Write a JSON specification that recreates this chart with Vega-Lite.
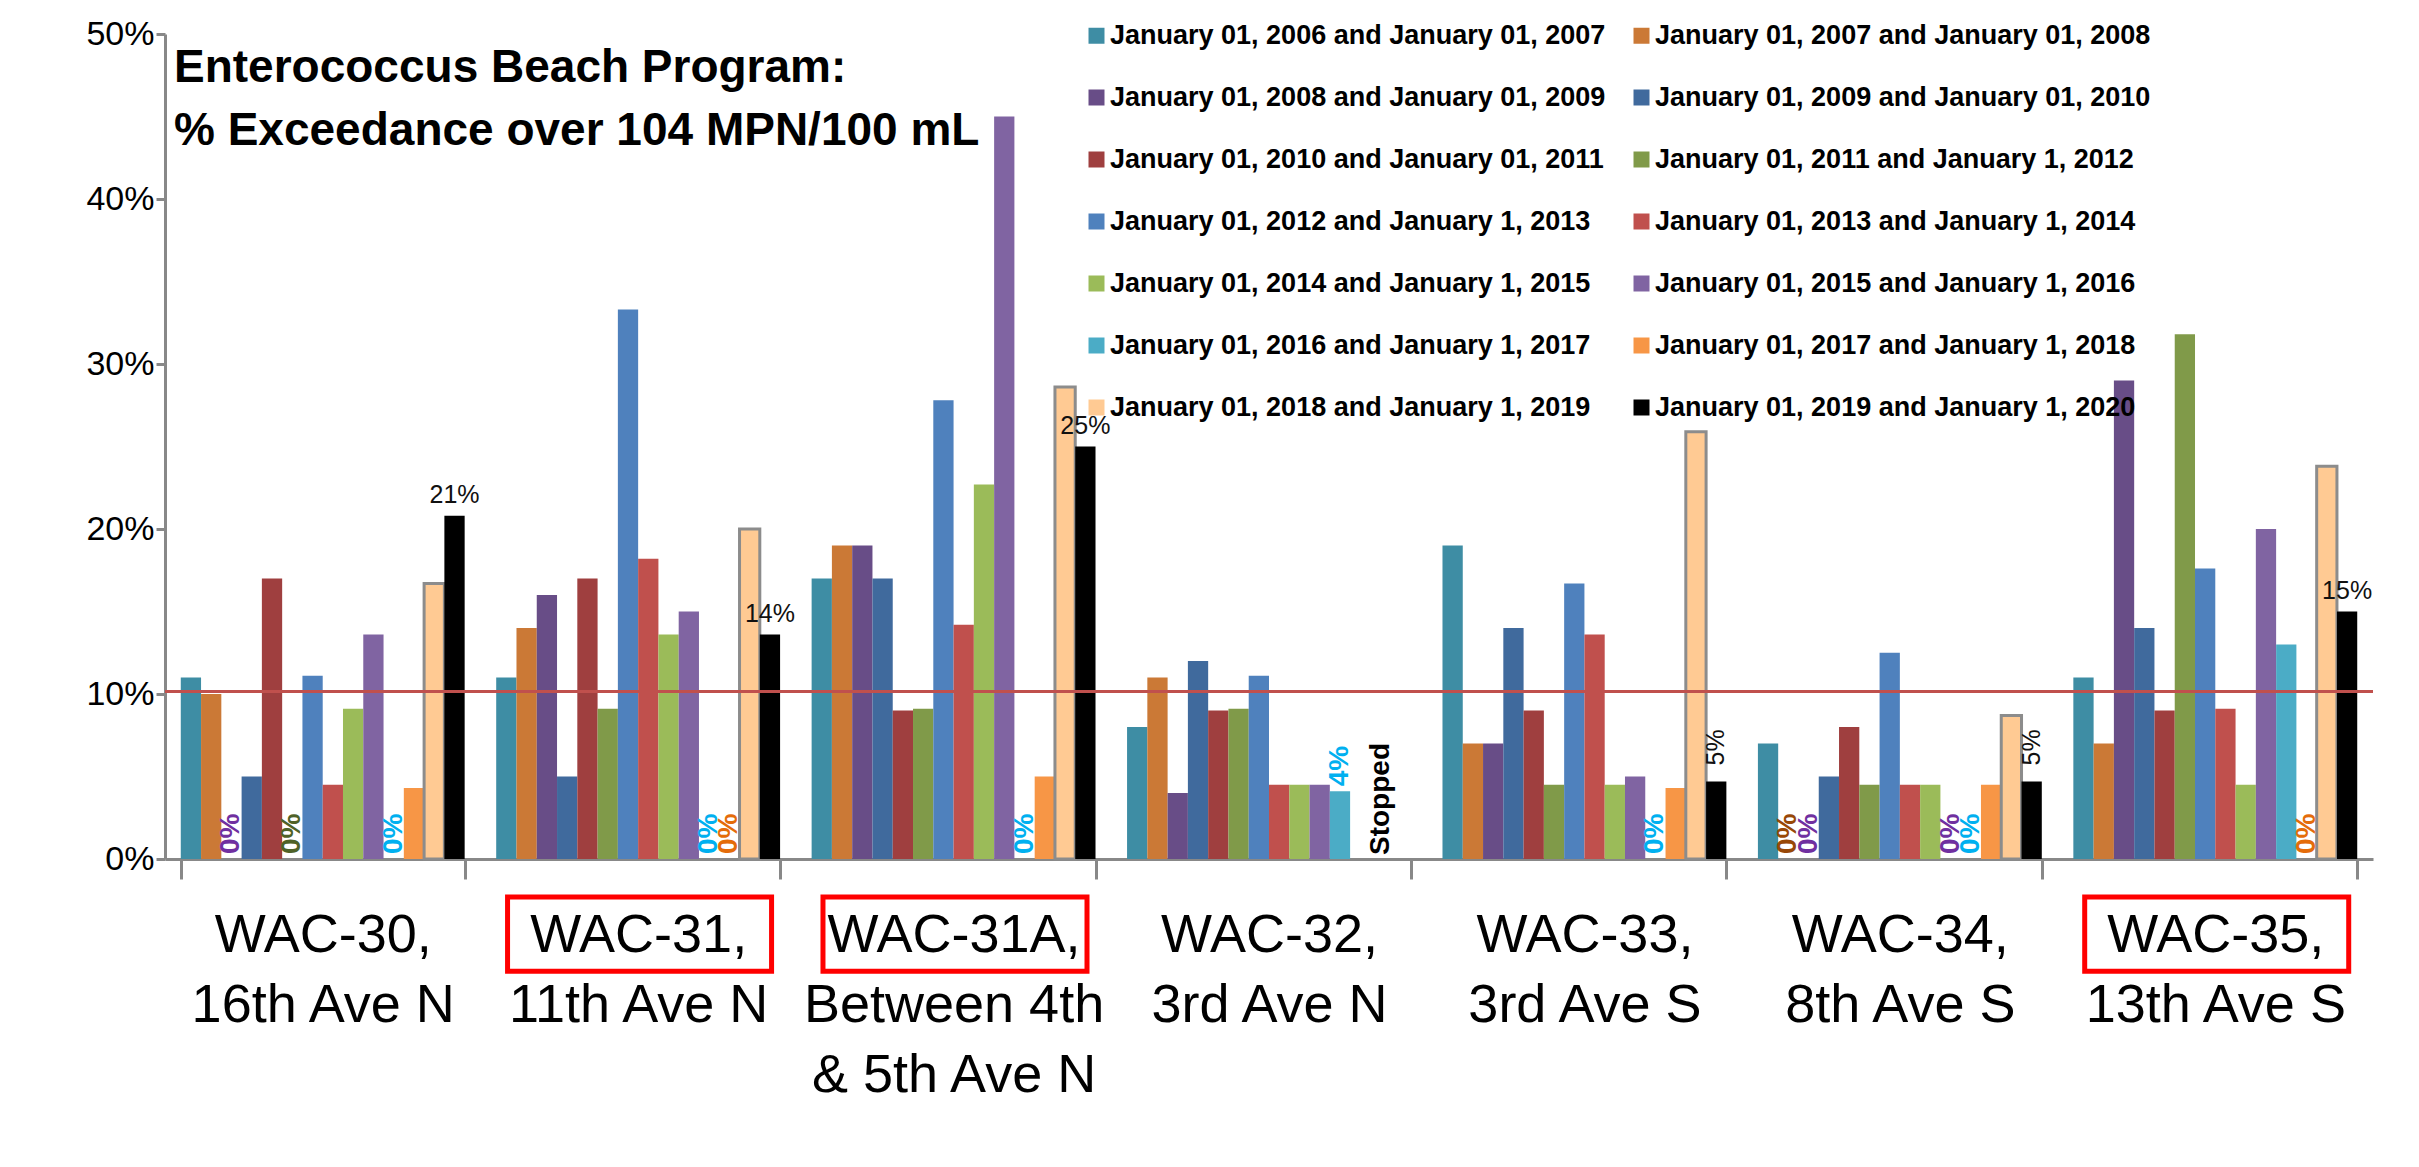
{
  "$schema": "https://vega.github.io/schema/vega-lite/v6.json",
  "autosize": {"type": "none"},
  "width": 2208,
  "height": 825,
  "padding": {"left": 165, "top": 34, "right": 46, "bottom": 308},
  "background": "white",
  "config": {"font": "Liberation Sans", "view": {"stroke": null}},
  "title": {
    "text": ["Enterococcus Beach Program:", "% Exceedance over 104 MPN/100 mL"],
    "anchor": "start", "orient": "top", "frame": "group", "offset": -138,
    "dx": 9, "fontSize": 46, "fontWeight": "bold", "lineHeight": 63, "color": "black"
  },
  "datasets": {
    "bars": [
      {"s": "WAC-30, 16th Ave N", "p": "January 01, 2006 and January 01, 2007", "v": 11, "lab": ""},
      {"s": "WAC-30, 16th Ave N", "p": "January 01, 2007 and January 01, 2008", "v": 10, "lab": ""},
      {"s": "WAC-30, 16th Ave N", "p": "January 01, 2008 and January 01, 2009", "v": 0, "lab": "0%"},
      {"s": "WAC-30, 16th Ave N", "p": "January 01, 2009 and January 01, 2010", "v": 5, "lab": ""},
      {"s": "WAC-30, 16th Ave N", "p": "January 01, 2010 and January 01, 2011", "v": 17, "lab": ""},
      {"s": "WAC-30, 16th Ave N", "p": "January 01, 2011 and January 1, 2012", "v": 0, "lab": "0%"},
      {"s": "WAC-30, 16th Ave N", "p": "January 01, 2012 and January 1, 2013", "v": 11.1, "lab": ""},
      {"s": "WAC-30, 16th Ave N", "p": "January 01, 2013 and January 1, 2014", "v": 4.5, "lab": ""},
      {"s": "WAC-30, 16th Ave N", "p": "January 01, 2014 and January 1, 2015", "v": 9.1, "lab": ""},
      {"s": "WAC-30, 16th Ave N", "p": "January 01, 2015 and January 1, 2016", "v": 13.6, "lab": ""},
      {"s": "WAC-30, 16th Ave N", "p": "January 01, 2016 and January 1, 2017", "v": 0, "lab": "0%"},
      {"s": "WAC-30, 16th Ave N", "p": "January 01, 2017 and January 1, 2018", "v": 4.3, "lab": ""},
      {"s": "WAC-30, 16th Ave N", "p": "January 01, 2018 and January 1, 2019", "v": 16.7, "lab": ""},
      {"s": "WAC-30, 16th Ave N", "p": "January 01, 2019 and January 1, 2020", "v": 20.8, "lab": "21%"},

      {"s": "WAC-31, 11th Ave N", "p": "January 01, 2006 and January 01, 2007", "v": 11, "lab": ""},
      {"s": "WAC-31, 11th Ave N", "p": "January 01, 2007 and January 01, 2008", "v": 14, "lab": ""},
      {"s": "WAC-31, 11th Ave N", "p": "January 01, 2008 and January 01, 2009", "v": 16, "lab": ""},
      {"s": "WAC-31, 11th Ave N", "p": "January 01, 2009 and January 01, 2010", "v": 5, "lab": ""},
      {"s": "WAC-31, 11th Ave N", "p": "January 01, 2010 and January 01, 2011", "v": 17, "lab": ""},
      {"s": "WAC-31, 11th Ave N", "p": "January 01, 2011 and January 1, 2012", "v": 9.1, "lab": ""},
      {"s": "WAC-31, 11th Ave N", "p": "January 01, 2012 and January 1, 2013", "v": 33.3, "lab": ""},
      {"s": "WAC-31, 11th Ave N", "p": "January 01, 2013 and January 1, 2014", "v": 18.2, "lab": ""},
      {"s": "WAC-31, 11th Ave N", "p": "January 01, 2014 and January 1, 2015", "v": 13.6, "lab": ""},
      {"s": "WAC-31, 11th Ave N", "p": "January 01, 2015 and January 1, 2016", "v": 15, "lab": ""},
      {"s": "WAC-31, 11th Ave N", "p": "January 01, 2016 and January 1, 2017", "v": 0, "lab": "0%"},
      {"s": "WAC-31, 11th Ave N", "p": "January 01, 2017 and January 1, 2018", "v": 0, "lab": "0%"},
      {"s": "WAC-31, 11th Ave N", "p": "January 01, 2018 and January 1, 2019", "v": 20, "lab": ""},
      {"s": "WAC-31, 11th Ave N", "p": "January 01, 2019 and January 1, 2020", "v": 13.6, "lab": "14%"},

      {"s": "WAC-31A, Between 4th & 5th Ave N", "p": "January 01, 2006 and January 01, 2007", "v": 17, "lab": ""},
      {"s": "WAC-31A, Between 4th & 5th Ave N", "p": "January 01, 2007 and January 01, 2008", "v": 19, "lab": ""},
      {"s": "WAC-31A, Between 4th & 5th Ave N", "p": "January 01, 2008 and January 01, 2009", "v": 19, "lab": ""},
      {"s": "WAC-31A, Between 4th & 5th Ave N", "p": "January 01, 2009 and January 01, 2010", "v": 17, "lab": ""},
      {"s": "WAC-31A, Between 4th & 5th Ave N", "p": "January 01, 2010 and January 01, 2011", "v": 9, "lab": ""},
      {"s": "WAC-31A, Between 4th & 5th Ave N", "p": "January 01, 2011 and January 1, 2012", "v": 9.1, "lab": ""},
      {"s": "WAC-31A, Between 4th & 5th Ave N", "p": "January 01, 2012 and January 1, 2013", "v": 27.8, "lab": ""},
      {"s": "WAC-31A, Between 4th & 5th Ave N", "p": "January 01, 2013 and January 1, 2014", "v": 14.2, "lab": ""},
      {"s": "WAC-31A, Between 4th & 5th Ave N", "p": "January 01, 2014 and January 1, 2015", "v": 22.7, "lab": ""},
      {"s": "WAC-31A, Between 4th & 5th Ave N", "p": "January 01, 2015 and January 1, 2016", "v": 45, "lab": ""},
      {"s": "WAC-31A, Between 4th & 5th Ave N", "p": "January 01, 2016 and January 1, 2017", "v": 0, "lab": "0%"},
      {"s": "WAC-31A, Between 4th & 5th Ave N", "p": "January 01, 2017 and January 1, 2018", "v": 5, "lab": ""},
      {"s": "WAC-31A, Between 4th & 5th Ave N", "p": "January 01, 2018 and January 1, 2019", "v": 28.6, "lab": ""},
      {"s": "WAC-31A, Between 4th & 5th Ave N", "p": "January 01, 2019 and January 1, 2020", "v": 25, "lab": "25%"},

      {"s": "WAC-32, 3rd Ave N", "p": "January 01, 2006 and January 01, 2007", "v": 8, "lab": ""},
      {"s": "WAC-32, 3rd Ave N", "p": "January 01, 2007 and January 01, 2008", "v": 11, "lab": ""},
      {"s": "WAC-32, 3rd Ave N", "p": "January 01, 2008 and January 01, 2009", "v": 4, "lab": ""},
      {"s": "WAC-32, 3rd Ave N", "p": "January 01, 2009 and January 01, 2010", "v": 12, "lab": ""},
      {"s": "WAC-32, 3rd Ave N", "p": "January 01, 2010 and January 01, 2011", "v": 9, "lab": ""},
      {"s": "WAC-32, 3rd Ave N", "p": "January 01, 2011 and January 1, 2012", "v": 9.1, "lab": ""},
      {"s": "WAC-32, 3rd Ave N", "p": "January 01, 2012 and January 1, 2013", "v": 11.1, "lab": ""},
      {"s": "WAC-32, 3rd Ave N", "p": "January 01, 2013 and January 1, 2014", "v": 4.5, "lab": ""},
      {"s": "WAC-32, 3rd Ave N", "p": "January 01, 2014 and January 1, 2015", "v": 4.5, "lab": ""},
      {"s": "WAC-32, 3rd Ave N", "p": "January 01, 2015 and January 1, 2016", "v": 4.5, "lab": ""},
      {"s": "WAC-32, 3rd Ave N", "p": "January 01, 2016 and January 1, 2017", "v": 4.1, "lab": "4%"},
      {"s": "WAC-32, 3rd Ave N", "p": "January 01, 2018 and January 1, 2019", "v": 0, "lab": "Stopped"},

      {"s": "WAC-33, 3rd Ave S", "p": "January 01, 2006 and January 01, 2007", "v": 19, "lab": ""},
      {"s": "WAC-33, 3rd Ave S", "p": "January 01, 2007 and January 01, 2008", "v": 7, "lab": ""},
      {"s": "WAC-33, 3rd Ave S", "p": "January 01, 2008 and January 01, 2009", "v": 7, "lab": ""},
      {"s": "WAC-33, 3rd Ave S", "p": "January 01, 2009 and January 01, 2010", "v": 14, "lab": ""},
      {"s": "WAC-33, 3rd Ave S", "p": "January 01, 2010 and January 01, 2011", "v": 9, "lab": ""},
      {"s": "WAC-33, 3rd Ave S", "p": "January 01, 2011 and January 1, 2012", "v": 4.5, "lab": ""},
      {"s": "WAC-33, 3rd Ave S", "p": "January 01, 2012 and January 1, 2013", "v": 16.7, "lab": ""},
      {"s": "WAC-33, 3rd Ave S", "p": "January 01, 2013 and January 1, 2014", "v": 13.6, "lab": ""},
      {"s": "WAC-33, 3rd Ave S", "p": "January 01, 2014 and January 1, 2015", "v": 4.5, "lab": ""},
      {"s": "WAC-33, 3rd Ave S", "p": "January 01, 2015 and January 1, 2016", "v": 5, "lab": ""},
      {"s": "WAC-33, 3rd Ave S", "p": "January 01, 2016 and January 1, 2017", "v": 0, "lab": "0%"},
      {"s": "WAC-33, 3rd Ave S", "p": "January 01, 2017 and January 1, 2018", "v": 4.3, "lab": ""},
      {"s": "WAC-33, 3rd Ave S", "p": "January 01, 2018 and January 1, 2019", "v": 25.9, "lab": ""},
      {"s": "WAC-33, 3rd Ave S", "p": "January 01, 2019 and January 1, 2020", "v": 4.7, "lab": "5%"},

      {"s": "WAC-34, 8th Ave S", "p": "January 01, 2006 and January 01, 2007", "v": 7, "lab": ""},
      {"s": "WAC-34, 8th Ave S", "p": "January 01, 2007 and January 01, 2008", "v": 0, "lab": "0%"},
      {"s": "WAC-34, 8th Ave S", "p": "January 01, 2008 and January 01, 2009", "v": 0, "lab": "0%"},
      {"s": "WAC-34, 8th Ave S", "p": "January 01, 2009 and January 01, 2010", "v": 5, "lab": ""},
      {"s": "WAC-34, 8th Ave S", "p": "January 01, 2010 and January 01, 2011", "v": 8, "lab": ""},
      {"s": "WAC-34, 8th Ave S", "p": "January 01, 2011 and January 1, 2012", "v": 4.5, "lab": ""},
      {"s": "WAC-34, 8th Ave S", "p": "January 01, 2012 and January 1, 2013", "v": 12.5, "lab": ""},
      {"s": "WAC-34, 8th Ave S", "p": "January 01, 2013 and January 1, 2014", "v": 4.5, "lab": ""},
      {"s": "WAC-34, 8th Ave S", "p": "January 01, 2014 and January 1, 2015", "v": 4.5, "lab": ""},
      {"s": "WAC-34, 8th Ave S", "p": "January 01, 2015 and January 1, 2016", "v": 0, "lab": "0%"},
      {"s": "WAC-34, 8th Ave S", "p": "January 01, 2016 and January 1, 2017", "v": 0, "lab": "0%"},
      {"s": "WAC-34, 8th Ave S", "p": "January 01, 2017 and January 1, 2018", "v": 4.5, "lab": ""},
      {"s": "WAC-34, 8th Ave S", "p": "January 01, 2018 and January 1, 2019", "v": 8.7, "lab": ""},
      {"s": "WAC-34, 8th Ave S", "p": "January 01, 2019 and January 1, 2020", "v": 4.7, "lab": "5%"},

      {"s": "WAC-35, 13th Ave S", "p": "January 01, 2006 and January 01, 2007", "v": 11, "lab": ""},
      {"s": "WAC-35, 13th Ave S", "p": "January 01, 2007 and January 01, 2008", "v": 7, "lab": ""},
      {"s": "WAC-35, 13th Ave S", "p": "January 01, 2008 and January 01, 2009", "v": 29, "lab": ""},
      {"s": "WAC-35, 13th Ave S", "p": "January 01, 2009 and January 01, 2010", "v": 14, "lab": ""},
      {"s": "WAC-35, 13th Ave S", "p": "January 01, 2010 and January 01, 2011", "v": 9, "lab": ""},
      {"s": "WAC-35, 13th Ave S", "p": "January 01, 2011 and January 1, 2012", "v": 31.8, "lab": ""},
      {"s": "WAC-35, 13th Ave S", "p": "January 01, 2012 and January 1, 2013", "v": 17.6, "lab": ""},
      {"s": "WAC-35, 13th Ave S", "p": "January 01, 2013 and January 1, 2014", "v": 9.1, "lab": ""},
      {"s": "WAC-35, 13th Ave S", "p": "January 01, 2014 and January 1, 2015", "v": 4.5, "lab": ""},
      {"s": "WAC-35, 13th Ave S", "p": "January 01, 2015 and January 1, 2016", "v": 20, "lab": ""},
      {"s": "WAC-35, 13th Ave S", "p": "January 01, 2016 and January 1, 2017", "v": 13, "lab": ""},
      {"s": "WAC-35, 13th Ave S", "p": "January 01, 2017 and January 1, 2018", "v": 0, "lab": "0%"},
      {"s": "WAC-35, 13th Ave S", "p": "January 01, 2018 and January 1, 2019", "v": 23.8, "lab": ""},
      {"s": "WAC-35, 13th Ave S", "p": "January 01, 2019 and January 1, 2020", "v": 15, "lab": "15%"}
    ]
  },
  "layer": [
    {
      "data": {"name": "bars"},
      "mark": {"type": "bar", "strokeWidth": 3},
      "encoding": {
        "x": {
          "field": "s", "type": "nominal",
          "sort": ["WAC-30, 16th Ave N", "WAC-31, 11th Ave N", "WAC-31A, Between 4th & 5th Ave N", "WAC-32, 3rd Ave N", "WAC-33, 3rd Ave S", "WAC-34, 8th Ave S", "WAC-35, 13th Ave S"],
          "scale": {"paddingInner": 0.1, "paddingOuter": 0.05},
          "axis": {
            "title": null, "labelAngle": 0, "labelFontSize": 54, "labelLineHeight": 70, "labelPadding": 29,
            "labelColor": "black", "labelLimit": 500, "tickBand": "extent", "tickSize": 20, "tickColor": "#888888",
            "tickWidth": 3, "domainColor": "#888888", "domainWidth": 3,
            "labelExpr": "split(replace(replace(datum.label, ', ', ',|'), ' & ', '|& '), '|')"
          }
        },
        "xOffset": {
          "field": "p", "type": "nominal",
          "sort": ["January 01, 2006 and January 01, 2007", "January 01, 2007 and January 01, 2008", "January 01, 2008 and January 01, 2009", "January 01, 2009 and January 01, 2010", "January 01, 2010 and January 01, 2011", "January 01, 2011 and January 1, 2012", "January 01, 2012 and January 1, 2013", "January 01, 2013 and January 1, 2014", "January 01, 2014 and January 1, 2015", "January 01, 2015 and January 1, 2016", "January 01, 2016 and January 1, 2017", "January 01, 2017 and January 1, 2018", "January 01, 2018 and January 1, 2019", "January 01, 2019 and January 1, 2020"],
          "scale": {"paddingInner": 0, "paddingOuter": 0}
        },
        "y": {
          "field": "v", "type": "quantitative",
          "scale": {"domain": [0, 50], "nice": false},
          "axis": {
            "title": null, "values": [0, 10, 20, 30, 40, 50], "labelExpr": "datum.value + '%'",
            "labelFontSize": 34, "labelColor": "black", "labelPadding": 2, "tickSize": 9,
            "tickColor": "#888888", "tickWidth": 3, "domainColor": "#888888", "domainWidth": 3, "grid": false
          }
        },
        "color": {
          "field": "p", "type": "nominal",
          "scale": {
            "domain": ["January 01, 2006 and January 01, 2007", "January 01, 2008 and January 01, 2009", "January 01, 2010 and January 01, 2011", "January 01, 2012 and January 1, 2013", "January 01, 2014 and January 1, 2015", "January 01, 2016 and January 1, 2017", "January 01, 2018 and January 1, 2019", "January 01, 2007 and January 01, 2008", "January 01, 2009 and January 01, 2010", "January 01, 2011 and January 1, 2012", "January 01, 2013 and January 1, 2014", "January 01, 2015 and January 1, 2016", "January 01, 2017 and January 1, 2018", "January 01, 2019 and January 1, 2020"],
            "range": ["#3E8DA4", "#684D87", "#9F3F3F", "#4F81BD", "#9BBB59", "#4BACC6", "#FFCA93", "#CB7936", "#406A9D", "#809A49", "#C0504D", "#8064A2", "#F79646", "#000000"]
          },
          "legend": {
            "title": null, "orient": "none", "legendX": 918, "legendY": -12, "columns": 2,
            "symbolType": "square", "symbolSize": 256, "symbolStrokeWidth": 0,
            "labelFontSize": 27, "labelFontWeight": "bold", "labelColor": "black", "labelLimit": 700,
            "labelOffset": 0, "rowPadding": 34, "columnPadding": 22
          }
        },
        "stroke": {
          "condition": {"test": "datum.p === 'January 01, 2018 and January 1, 2019' && datum.v > 0", "value": "#8C8C8C"},
          "value": "transparent"
        }
      }
    },
    {
      "data": {"values": [{"threshold": 10.15}]},
      "mark": {"type": "rule", "color": "#C0504D", "strokeWidth": 3},
      "encoding": {"y": {"field": "threshold", "type": "quantitative"}}
    },
    {
      "data": {"name": "bars"},
      "transform": [{"filter": "datum.lab === '0%' || datum.lab === '4%'"}],
      "mark": {"type": "text", "angle": 270, "align": "left", "baseline": "middle", "dx": 5, "fontSize": 28, "fontWeight": "bold"},
      "encoding": {
        "x": {"field": "s", "type": "nominal"},
        "xOffset": {"field": "p", "type": "nominal"},
        "y": {"field": "v", "type": "quantitative"},
        "text": {"field": "lab"},
        "fill": {
          "field": "p", "type": "nominal", "legend": null,
          "scale": {
            "domain": ["January 01, 2007 and January 01, 2008", "January 01, 2008 and January 01, 2009", "January 01, 2011 and January 1, 2012", "January 01, 2015 and January 1, 2016", "January 01, 2016 and January 1, 2017", "January 01, 2017 and January 1, 2018"],
            "range": ["#984807", "#7030A0", "#4F6228", "#7030A0", "#00B0F0", "#E46C0A"]
          }
        }
      }
    },
    {
      "data": {"name": "bars"},
      "transform": [{"filter": "datum.lab === 'Stopped'"}],
      "mark": {"type": "text", "angle": 270, "align": "left", "baseline": "middle", "dx": 4, "fontSize": 28, "fontWeight": "bold", "color": "black"},
      "encoding": {
        "x": {"field": "s", "type": "nominal"},
        "xOffset": {"field": "p", "type": "nominal"},
        "y": {"field": "v", "type": "quantitative"},
        "text": {"field": "lab"}
      }
    },
    {
      "data": {"name": "bars"},
      "transform": [{"filter": "indexof(['21%', '14%', '25%', '15%'], datum.lab) >= 0"}],
      "mark": {"type": "text", "align": "center", "baseline": "bottom", "dy": -8, "fontSize": 25, "color": "#111111"},
      "encoding": {
        "x": {"field": "s", "type": "nominal"},
        "xOffset": {"field": "p", "type": "nominal"},
        "y": {"field": "v", "type": "quantitative"},
        "text": {"field": "lab"}
      }
    },
    {
      "data": {"name": "bars"},
      "transform": [{"filter": "datum.lab === '5%'"}],
      "mark": {"type": "text", "angle": 270, "align": "left", "baseline": "middle", "dx": 16, "fontSize": 25, "color": "#111111"},
      "encoding": {
        "x": {"field": "s", "type": "nominal"},
        "xOffset": {"field": "p", "type": "nominal"},
        "y": {"field": "v", "type": "quantitative"},
        "text": {"field": "lab"}
      }
    },
    {
      "data": {"values": [{"s": "WAC-31, 11th Ave N"}, {"s": "WAC-31A, Between 4th & 5th Ave N"}, {"s": "WAC-35, 13th Ave S"}]},
      "mark": {"type": "rect", "filled": false, "stroke": "#FF0000", "strokeWidth": 5},
      "encoding": {
        "x": {"field": "s", "type": "nominal", "bandPosition": 0.04},
        "x2": {"field": "s", "bandPosition": 0.97},
        "y": {"datum": -2.3},
        "y2": {"datum": -6.8}
      }
    }
  ]
}
